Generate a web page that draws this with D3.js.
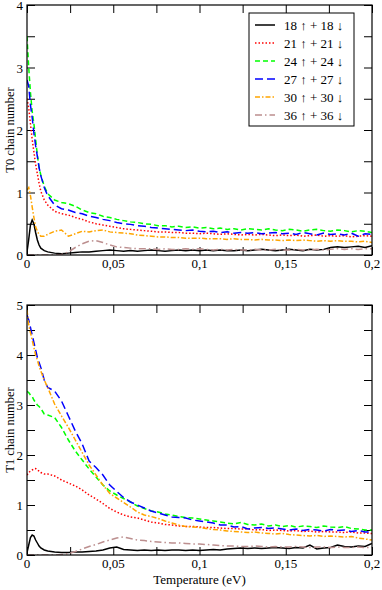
<!DOCTYPE html>
<html>
<head>
<meta charset="utf-8">
<script src="https://cdn.jsdelivr.net/npm/d3@7"></script>
<style>
  body { margin: 0; background: #fff; }
</style>
</head>
<body>
<svg id="chart" width="382" height="590"></svg>
<script>
// temperature grid (eV)
var temps = [0, 0.001, 0.002, 0.003, 0.004, 0.005, 0.006, 0.007, 0.008, 0.010,
  0.012, 0.016, 0.020, 0.024, 0.028, 0.032, 0.036, 0.040, 0.044, 0.048,
  0.052, 0.056, 0.060, 0.064, 0.068, 0.072, 0.076, 0.080, 0.084, 0.088,
  0.092, 0.096, 0.100, 0.104, 0.108, 0.112, 0.116, 0.120, 0.124, 0.128,
  0.132, 0.136, 0.140, 0.144, 0.148, 0.152, 0.156, 0.160, 0.164, 0.168,
  0.172, 0.176, 0.180, 0.184, 0.188, 0.192, 0.196, 0.200]

var seriesNames = ["18 \u2191 + 18 \u2193", "21 \u2191 + 21 \u2193", "24 \u2191 + 24 \u2193",
  "27 \u2191 + 27 \u2193", "30 \u2191 + 30 \u2193", "36 \u2191 + 36 \u2193"]

var xTicks = [0, 0.05, 0.1, 0.15, 0.2]
var xTickLabels = ["0", "0,05", "0,1", "0,15", "0,2"]

// T0 chain number
var t0_18 = [0.05, 0.25, 0.48, 0.56, 0.5, 0.36, 0.24, 0.16, 0.11, 0.07,
  0.05, 0.03, 0.02, 0.03, 0.04, 0.05, 0.05, 0.06, 0.07, 0.08,
  0.07, 0.06, 0.07, 0.06, 0.07, 0.08, 0.07, 0.06, 0.07, 0.08,
  0.07, 0.08, 0.07, 0.08, 0.07, 0.08, 0.07, 0.07, 0.08, 0.07,
  0.08, 0.09, 0.08, 0.07, 0.08, 0.09, 0.08, 0.07, 0.09, 0.08,
  0.09, 0.12, 0.13, 0.12, 0.13, 0.14, 0.12, 0.15]
var t0_21 = [2.5, 2.35, 2.1, 1.85, 1.65, 1.45, 1.3, 1.15, 1.02, 0.88,
  0.8, 0.7, 0.66, 0.64, 0.6, 0.57, 0.53, 0.5, 0.48, 0.46,
  0.44, 0.42, 0.41, 0.4, 0.39, 0.38, 0.37, 0.37, 0.36, 0.36,
  0.35, 0.35, 0.34, 0.35, 0.34, 0.33, 0.34, 0.33, 0.32, 0.33,
  0.32, 0.33, 0.32, 0.31, 0.32, 0.31, 0.32, 0.3, 0.31, 0.32,
  0.3, 0.31, 0.3, 0.31, 0.29, 0.3, 0.31, 0.3]
var t0_24 = [3.5, 3.0, 2.6, 2.3, 2.1, 1.85, 1.6, 1.4, 1.28, 1.1,
  0.98, 0.88, 0.84, 0.82, 0.78, 0.72, 0.68, 0.66, 0.62, 0.6,
  0.57, 0.55, 0.53, 0.52, 0.5, 0.49, 0.47, 0.47, 0.45, 0.46,
  0.44, 0.45, 0.43, 0.44, 0.42, 0.43, 0.41, 0.42, 0.4, 0.42,
  0.41, 0.4, 0.42, 0.4, 0.39, 0.41, 0.4, 0.38, 0.4, 0.41,
  0.39, 0.38, 0.4, 0.39, 0.37, 0.39, 0.38, 0.36]
var t0_27 = [2.8, 2.7, 2.4, 2.2, 1.95, 1.75, 1.58, 1.4, 1.27, 1.08,
  0.95, 0.8, 0.74, 0.72, 0.68, 0.66, 0.62, 0.6, 0.57, 0.55,
  0.52, 0.5, 0.49, 0.47, 0.46, 0.44, 0.43, 0.42, 0.41, 0.4,
  0.39, 0.4, 0.38, 0.37, 0.38, 0.36, 0.37, 0.35, 0.36, 0.35,
  0.36, 0.34, 0.35, 0.36, 0.34, 0.35, 0.33, 0.36, 0.34, 0.32,
  0.35, 0.33, 0.34, 0.32, 0.35, 0.3, 0.34, 0.33]
var t0_30 = [1.04, 1.08, 0.95, 0.77, 0.6, 0.45, 0.38, 0.33, 0.3, 0.3,
  0.33, 0.38, 0.4, 0.3, 0.34, 0.38, 0.37, 0.39, 0.4, 0.37,
  0.36, 0.35, 0.34, 0.32, 0.31, 0.3, 0.29, 0.29, 0.28, 0.28,
  0.27, 0.27, 0.27, 0.26, 0.26, 0.26, 0.25, 0.26, 0.25, 0.25,
  0.24, 0.25, 0.24, 0.24, 0.23, 0.24, 0.23, 0.24, 0.23, 0.22,
  0.23, 0.22, 0.23, 0.22, 0.22, 0.21, 0.22, 0.2]
var t0_36 = [0, 0, 0, 0, 0, 0, 0, 0, 0, 0,
  0, 0, 0.01, 0.05, 0.12, 0.18, 0.22, 0.23, 0.2, 0.16,
  0.13, 0.12, 0.11, 0.1, 0.1, 0.1, 0.09, 0.1, 0.09, 0.09,
  0.1, 0.09, 0.1, 0.09, 0.08, 0.09, 0.08, 0.09, 0.08, 0.08,
  0.09, 0.08, 0.08, 0.09, 0.08, 0.08, 0.09, 0.08, 0.08, 0.09,
  0.08, 0.09, 0.1, 0.09, 0.1, 0.09, 0.1, 0.1]

// T1 chain number
var t1_18 = [0.05, 0.2, 0.35, 0.4, 0.38, 0.3, 0.24, 0.18, 0.14, 0.1,
  0.08, 0.06, 0.05, 0.05, 0.06, 0.06, 0.07, 0.08, 0.1, 0.14,
  0.16, 0.11, 0.1, 0.09, 0.1, 0.09, 0.1, 0.09, 0.1, 0.1,
  0.09, 0.1, 0.09, 0.1, 0.11, 0.1, 0.12, 0.13, 0.14, 0.13,
  0.14, 0.13, 0.14, 0.15, 0.14, 0.13, 0.15, 0.14, 0.2, 0.12,
  0.14, 0.15, 0.2, 0.17, 0.16, 0.18, 0.17, 0.23]
var t1_21 = [1.6, 1.65, 1.68, 1.7, 1.72, 1.73, 1.7, 1.68, 1.65, 1.62,
  1.62, 1.58, 1.5, 1.44, 1.38, 1.3, 1.2, 1.12, 1.03, 0.93,
  0.86, 0.8, 0.76, 0.74, 0.7, 0.66, 0.64, 0.61, 0.6, 0.58,
  0.57, 0.57, 0.56, 0.55, 0.55, 0.54, 0.53, 0.53, 0.52, 0.52,
  0.5, 0.51, 0.49, 0.5, 0.49, 0.48, 0.49, 0.47, 0.48, 0.46,
  0.47, 0.46, 0.46, 0.45, 0.46, 0.44, 0.44, 0.43]
var t1_24 = [3.27, 3.25, 3.2, 3.17, 3.1, 3.05, 3.0, 2.97, 2.93, 2.82,
  2.8, 2.75, 2.55, 2.3, 2.08, 1.9, 1.72, 1.56, 1.4, 1.28,
  1.2, 1.13, 1.06, 0.98, 0.93, 0.88, 0.86, 0.82, 0.8, 0.77,
  0.75, 0.74, 0.72, 0.7, 0.68, 0.66, 0.64, 0.62, 0.65, 0.61,
  0.6, 0.62, 0.58, 0.6, 0.57, 0.59, 0.56, 0.58, 0.57, 0.55,
  0.58, 0.56, 0.55, 0.57, 0.53, 0.52, 0.5, 0.5]
var t1_27 = [4.8, 4.7, 4.55, 4.4, 4.25, 4.1, 3.95, 3.85, 3.75, 3.5,
  3.35, 3.28, 3.08, 2.78, 2.48, 2.22, 1.88, 1.75, 1.6, 1.4,
  1.27, 1.15, 1.06, 1.0, 0.94, 0.88, 0.84, 0.8, 0.76, 0.75,
  0.74, 0.7, 0.68, 0.66, 0.64, 0.6, 0.6, 0.56, 0.57, 0.52,
  0.54, 0.55, 0.53, 0.54, 0.52, 0.5, 0.52, 0.49, 0.51, 0.5,
  0.48, 0.51, 0.49, 0.5, 0.47, 0.49, 0.46, 0.46]
var t1_30 = [4.9, 4.6, 4.45, 4.3, 4.15, 4.0, 3.9, 3.78, 3.68, 3.5,
  3.35, 3.02, 2.78, 2.55, 2.3, 2.05, 1.8, 1.6, 1.4, 1.23,
  1.14, 1.05, 0.96, 0.86, 0.8, 0.77, 0.73, 0.68, 0.64, 0.6,
  0.57, 0.56, 0.55, 0.53, 0.51, 0.5, 0.48, 0.47, 0.46, 0.45,
  0.46, 0.44, 0.43, 0.42, 0.43, 0.41, 0.4, 0.39, 0.38, 0.39,
  0.37, 0.38, 0.37, 0.36, 0.37, 0.34, 0.32, 0.3]
var t1_36 = [0, 0, 0, 0, 0, 0, 0, 0, 0, 0,
  0, 0, 0.01, 0.03, 0.07, 0.12, 0.17, 0.21, 0.26, 0.3,
  0.34, 0.36, 0.33, 0.3, 0.29, 0.27, 0.26, 0.25, 0.24, 0.24,
  0.23, 0.22, 0.22, 0.21, 0.2, 0.19, 0.18, 0.18, 0.17, 0.17,
  0.18, 0.17, 0.16, 0.17, 0.16, 0.16, 0.17, 0.16, 0.15, 0.16,
  0.16, 0.15, 0.16, 0.15, 0.15, 0.16, 0.15, 0.15]

var colors = ["#000000", "#ff0000", "#00ff00", "#0000ff", "#ffa500", "#bc8f8f"]
var dashes = [null, "1.5,2", "5,3", "8,4", "5,2,1.5,2", "7,3,1.5,3"]

var svg = d3.select("#chart")
var left = 27, right = 372
var serif = "'Liberation Serif', 'Times New Roman', serif"

var x = d3.scaleLinear().domain([0, 0.2]).range([left, right])

function drawPanel(top, bottom, ymax, yMinorStep, series, ylabel, xlabel) {
    var y = d3.scaleLinear().domain([0, ymax]).range([bottom, top])
    var g = svg.append("g")

    // ticks on all four sides, pointing inward
    var xMinor = d3.range(0, 0.2001, 0.025)
    var yMinor = d3.range(0, ymax + 0.001, yMinorStep)
    var yMajor = d3.range(0, ymax + 0.001, 1)

    g.append("g").attr("transform", "translate(0," + bottom + ")")
        .call(d3.axisBottom(x).tickValues(xMinor).tickSize(-8).tickFormat(""))
    g.append("g").attr("transform", "translate(0," + top + ")")
        .call(d3.axisTop(x).tickValues(xMinor).tickSize(-8).tickFormat(""))
    g.append("g").attr("transform", "translate(" + left + ",0)")
        .call(d3.axisLeft(y).tickValues(yMinor).tickSize(-8).tickFormat(""))
    g.append("g").attr("transform", "translate(" + right + ",0)")
        .call(d3.axisRight(y).tickValues(yMinor).tickSize(-8).tickFormat(""))
    g.selectAll(".domain").remove()
    g.selectAll(".tick line").attr("stroke", "#000").attr("stroke-width", 1)

    // tick labels
    g.selectAll(".xlab").data(xTicks).enter().append("text")
        .attr("x", function(d) { return x(d) })
        .attr("y", bottom + 13)
        .attr("text-anchor", "middle")
        .style("font-family", serif)
        .attr("font-size", 13)
        .text(function(d, i) { return xTickLabels[i] })
    g.selectAll(".ylab").data(yMajor).enter().append("text")
        .attr("x", left - 4)
        .attr("y", function(d) { return y(d) + 5 })
        .attr("text-anchor", "end")
        .style("font-family", serif)
        .attr("font-size", 13)
        .text(function(d) { return d })

    var line = d3.line()
        .x(function(d, i) { return x(temps[i]) })
        .y(function(d) { return y(d) })

    var clipId = "clip" + top
    svg.append("clipPath").attr("id", clipId).append("rect")
        .attr("x", left).attr("y", top).attr("width", right - left).attr("height", bottom - top)

    g.append("g").attr("clip-path", "url(#" + clipId + ")")
        .selectAll("path").data(series).enter().append("path")
        .attr("d", line)
        .attr("fill", "none")
        .attr("stroke", function(d, i) { return colors[i] })
        .attr("stroke-width", 1.5)
        .attr("stroke-dasharray", function(d, i) { return dashes[i] })

    g.append("rect").attr("x", left).attr("y", top)
        .attr("width", right - left).attr("height", bottom - top)
        .attr("fill", "none").attr("stroke", "#000").attr("stroke-width", 1.2)

    g.append("text")
        .attr("transform", "translate(14," + ((top + bottom) / 2) + ") rotate(-90)")
        .attr("text-anchor", "middle")
        .style("font-family", serif)
        .attr("font-size", 12.5)
        .text(ylabel)

    if (xlabel) {
        g.append("text").attr("x", (left + right) / 2).attr("y", bottom + 29)
            .attr("text-anchor", "middle")
            .style("font-family", serif)
            .attr("font-size", 13).text(xlabel)
    }
}

drawPanel(5, 255, 4, 0.5, [t0_18, t0_21, t0_24, t0_27, t0_30, t0_36], "T0 chain number", null)
drawPanel(305, 555, 5, 0.5, [t1_18, t1_21, t1_24, t1_27, t1_30, t1_36], "T1 chain number", "Temperature (eV)")

// legend
var lg = svg.append("g")
lg.append("rect").attr("x", 249).attr("y", 13).attr("width", 105).attr("height", 113)
    .attr("fill", "#fff").attr("stroke", "#000").attr("stroke-width", 1)
var items = lg.selectAll(".item").data(seriesNames).enter().append("g")
    .attr("transform", function(d, i) { return "translate(0," + (25 + i * 18) + ")" })
items.append("line").attr("x1", 255).attr("x2", 275).attr("y1", 0).attr("y2", 0)
    .attr("stroke", function(d, i) { return colors[i] })
    .attr("stroke-width", 1.5)
    .attr("stroke-dasharray", function(d, i) { return dashes[i] })
items.append("text").attr("x", 284).attr("y", 4.5)
    .style("font-family", serif).attr("font-size", 13)
    .text(function(d) { return d })
</script>
</body>
</html>
